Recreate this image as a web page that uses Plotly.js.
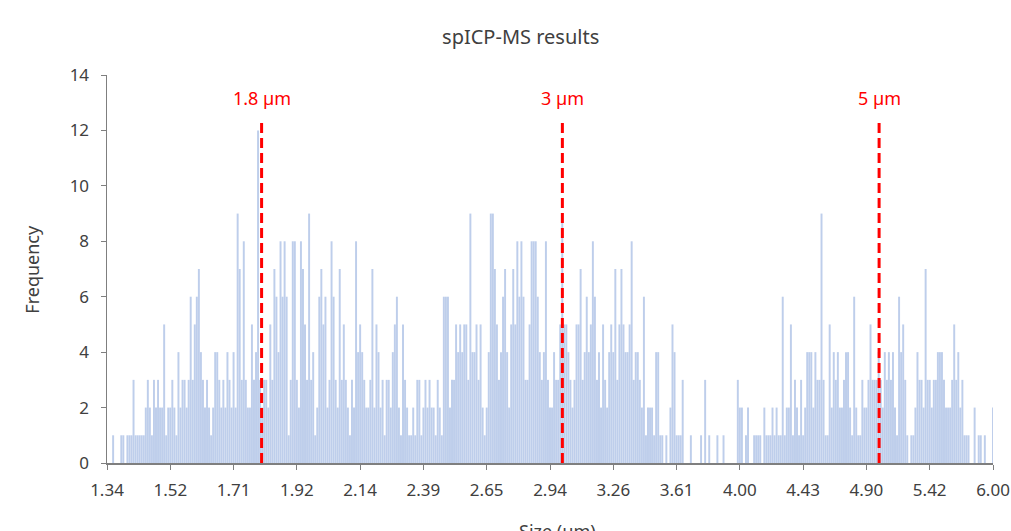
<!DOCTYPE html>
<html>
<head>
<meta charset="utf-8">
<script src="https://cdn.plot.ly/plotly-3.0.1.min.js"></script>
<style>html,body{margin:0;padding:0;background:#fff;}#chart{width:1011px;height:531px;}</style>
</head>
<body>
<div id="chart"></div>
<script>
// Tick labels of the size axis (µm); each tick interval holds 31 bins
const tickLabels = ['1.34','1.52','1.71','1.92','2.14','2.39','2.65','2.94','3.26','3.61','4.00','4.43','4.90','5.42','6.00'];
const binsPerTick = 31;

// Frequency per bin, grouped by tick interval
const freq_134_152 = [0,0,0,1,0,0,0,1,1,0,1,1,1,3,1,1,1,1,1,2,3,2,1,3,2,3,2,2,5,1,2];
const freq_152_171 = [2,3,2,1,4,2,3,3,2,3,6,3,5,6,7,4,3,2,3,2,1,2,4,4,3,2,3,2,4,3,2];
const freq_171_192 = [4,2,9,7,3,8,3,2,2,5,3,4,12,3,2,3,3,2,5,3,7,6,4,8,6,8,6,1,3,8,8];
const freq_192_214 = [3,2,8,7,5,3,9,3,4,1,2,6,7,5,6,2,3,8,6,3,2,7,3,5,3,2,1,3,2,8,4];
const freq_214_239 = [5,4,3,2,2,3,7,2,5,4,2,3,1,3,3,2,4,5,6,2,1,5,3,2,1,1,2,1,3,3,1];
const freq_239_265 = [2,3,2,3,2,2,1,3,2,1,6,6,6,2,3,3,5,4,5,4,5,5,3,9,4,4,5,3,5,2,1];
const freq_265_294 = [2,4,9,9,7,5,3,4,6,7,4,2,5,7,5,8,6,8,6,3,3,5,8,8,8,6,4,3,4,8,3];
const freq_294_326 = [2,2,4,3,3,5,9,5,5,4,3,2,3,5,5,7,3,4,6,4,5,8,6,3,4,2,5,3,2,4,5];
const freq_326_361 = [4,7,3,5,7,5,4,4,5,8,3,4,4,3,2,6,1,2,2,2,1,4,4,1,1,0,1,0,2,5,4];
const freq_361_400 = [1,1,1,3,0,0,0,1,0,0,0,0,1,0,3,0,1,0,0,0,1,0,0,1,0,0,0,0,0,0,3];
const freq_400_443 = [2,2,0,1,2,0,0,1,1,1,1,0,2,1,1,1,2,1,2,1,1,6,1,2,2,5,1,3,2,1,3];
const freq_443_490 = [1,2,4,4,4,2,4,3,3,9,3,1,1,5,2,4,3,4,2,2,3,4,4,2,1,6,2,1,1,3,2];
const freq_490_542 = [2,3,5,3,3,3,4,3,2,4,3,4,3,4,2,1,6,4,5,3,1,0,1,1,2,4,3,3,2,7,3];
const freq_542_600 = [3,2,3,3,4,4,4,3,2,2,2,3,5,3,4,2,3,1,1,1,0,0,2,0,1,1,0,1,0,0,0];
const freq_600 = [2];

// Reference sizes marked with dashed lines
const markerSizes = [1.8, 3, 5];
const markerLabels = ['1.8 µm', '3 µm', '5 µm'];
const markerTop = 12.45;

const counts = [].concat(freq_134_152, freq_152_171, freq_171_192, freq_192_214, freq_214_239,
  freq_239_265, freq_265_294, freq_294_326, freq_326_361, freq_361_400, freq_400_443,
  freq_443_490, freq_490_542, freq_542_600, freq_600);
const binIndex = counts.map((_, i) => i);
const tickVals = tickLabels.map((_, j) => j * binsPerTick);

// position of a size on the bin axis (log interpolation between tick labels)
function sizeToBin(s) {
  const t = tickLabels.map(Number);
  for (let j = 0; j < t.length - 1; j++) {
    if (s >= t[j] && s <= t[j + 1]) {
      return (j + Math.log(s / t[j]) / Math.log(t[j + 1] / t[j])) * binsPerTick;
    }
  }
  return 0;
}

const font = 'Noto Sans, Open Sans, sans-serif';
const shapes = markerSizes.map(s => ({
  type: 'line', xref: 'x', yref: 'y',
  x0: sizeToBin(s), x1: sizeToBin(s), y0: 0, y1: markerTop,
  line: {color: 'rgb(255,0,0)', width: 3, dash: '10px,5px'}
}));
const annotations = markerSizes.map((s, i) => ({
  xref: 'x', yref: 'y', x: sizeToBin(s), y: markerTop + 0.2,
  text: markerLabels[i], showarrow: false, xanchor: 'center', yanchor: 'bottom',
  font: {family: font, size: 18, color: 'rgb(255,0,0)'}
}));
annotations.push({
  xref: 'paper', yref: 'paper', x: -0.085, y: 0.5, text: 'Frequency', textangle: -90,
  showarrow: false, xanchor: 'center', yanchor: 'middle',
  font: {family: font, size: 18, color: '#404040'}
});
annotations.push({
  xref: 'paper', yref: 'paper', x: 0.509, y: -0.138, text: 'Size (µm)',
  showarrow: false, xanchor: 'center', yanchor: 'top',
  font: {family: font, size: 18, color: '#404040'}
});

const trace = {
  type: 'bar', x: binIndex, y: counts,
  marker: {color: 'rgb(190,206,235)', line: {width: 0}},
  hoverinfo: 'y'
};

const layout = {
  width: 1011, height: 531,
  margin: {l: 107, r: 18, t: 75, b: 68},
  paper_bgcolor: '#fff', plot_bgcolor: '#fff',
  showlegend: false,
  bargap: 0.04,
  title: {text: 'spICP-MS results', x: 0.515, xref: 'container', y: 0.93, yanchor: 'middle',
    font: {family: font, size: 20, color: '#404040'}},
  xaxis: {
    range: [0, counts.length - 1], tickmode: 'array', tickvals: tickVals, ticktext: tickLabels,
    ticks: 'outside', ticklen: 5, tickcolor: '#7f7f7f', showline: true, linecolor: '#7f7f7f',
    linewidth: 1.5, showgrid: false, zeroline: false, ticklabelstandoff: 6,
    tickfont: {family: font, size: 17, color: '#404040'}
  },
  yaxis: {
    range: [0, 14], dtick: 2, ticks: 'outside', ticklen: 5, tickcolor: '#7f7f7f',
    showline: true, linecolor: '#7f7f7f', linewidth: 1.5, showgrid: false, zeroline: false,
    ticklabelstandoff: 8,
    tickfont: {family: font, size: 17, color: '#404040'}
  },
  shapes: shapes,
  annotations: annotations
};

Plotly.newPlot('chart', [trace], layout, {displayModeBar: false, staticPlot: true});
</script>
</body>
</html>
